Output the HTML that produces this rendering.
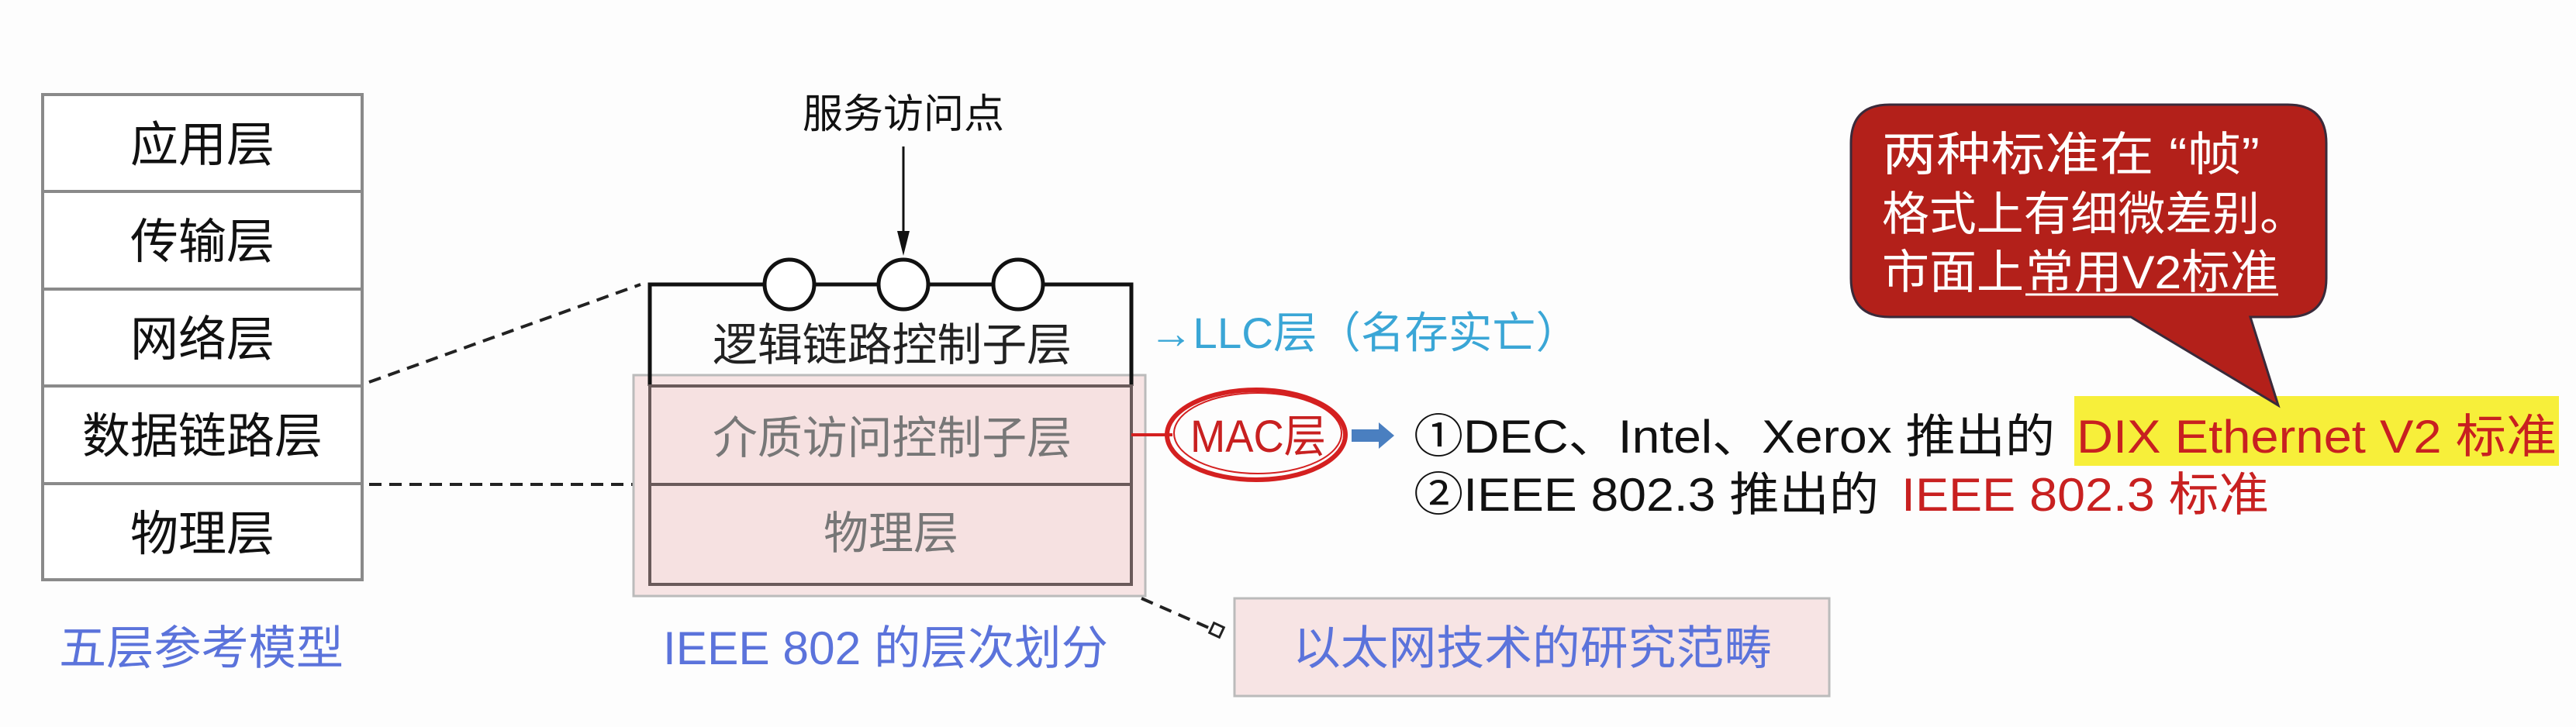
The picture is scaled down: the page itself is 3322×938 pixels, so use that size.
<!DOCTYPE html>
<html><head><meta charset="utf-8"><style>
html,body{margin:0;padding:0;background:#fff;}
svg{display:block;}
text{font-family:"Liberation Sans","Noto Sans CJK SC",sans-serif;}
</style></head><body>
<svg width="3322" height="938" viewBox="0 0 3322 938" xmlns="http://www.w3.org/2000/svg">
<rect width="3322" height="938" fill="#fdfdfd"/>
<g stroke="#8a8a8a" stroke-width="4" fill="#fff">
<rect x="55" y="122" width="412" height="626"/>
<line x1="55" y1="247" x2="467" y2="247"/>
<line x1="55" y1="373" x2="467" y2="373"/>
<line x1="55" y1="498" x2="467" y2="498"/>
<line x1="55" y1="624" x2="467" y2="624"/>
</g>
<g font-size="62" fill="#111" text-anchor="middle">
<text x="261" y="208">应用层</text>
<text x="261" y="333">传输层</text>
<text x="261" y="459">网络层</text>
<text x="261" y="584">数据链路层</text>
<text x="261" y="710">物理层</text>
</g>
<text x="76" y="857" font-size="60" fill="#5b73db" textLength="367" lengthAdjust="spacingAndGlyphs">五层参考模型</text>
<g stroke="#222" stroke-width="4" stroke-dasharray="16,10" fill="none">
<line x1="476" y1="493" x2="826" y2="367"/>
<line x1="476" y1="625" x2="817" y2="625"/>
<line x1="1472" y1="772" x2="1568" y2="814"/>
</g>
<rect x="1562" y="806" width="14" height="14" fill="#fff" stroke="#222" stroke-width="3" transform="rotate(25 1569 813)"/>
<rect x="817" y="484" width="660" height="285" fill="#f7e4e4" stroke="#bbb" stroke-width="3"/>
<polyline points="838,498 838,367 1459,367 1459,498" fill="none" stroke="#111" stroke-width="5"/>
<rect x="838" y="498" width="621" height="256" fill="#f6e1e1" stroke="#6a5a5a" stroke-width="4"/>
<line x1="838" y1="625" x2="1459" y2="625" stroke="#6a5a5a" stroke-width="4"/>
<g fill="#fff" stroke="#111" stroke-width="5">
<circle cx="1018" cy="367" r="32"/>
<circle cx="1165" cy="367" r="32"/>
<circle cx="1313" cy="367" r="32"/>
</g>
<line x1="1165" y1="189" x2="1165" y2="305" stroke="#111" stroke-width="3"/>
<polygon points="1157,298 1173,298 1165,330" fill="#111"/>
<text x="1165" y="165" font-size="52" fill="#111" text-anchor="middle">服务访问点</text>
<text x="919" y="465" font-size="58" fill="#222" textLength="463" lengthAdjust="spacingAndGlyphs">逻辑链路控制子层</text>
<text x="919" y="585" font-size="58" fill="#777" textLength="463" lengthAdjust="spacingAndGlyphs">介质访问控制子层</text>
<text x="1149" y="708" font-size="58" fill="#777" text-anchor="middle">物理层</text>
<text x="855" y="857" font-size="60" fill="#5b73db" textLength="574" lengthAdjust="spacingAndGlyphs">IEEE 802 的层次划分</text>
<text x="1482" y="449" font-size="56" fill="#3aa6d6" textLength="555" lengthAdjust="spacingAndGlyphs">→LLC层（名存实亡）</text>
<line x1="1459" y1="561" x2="1512" y2="561" stroke="#d42020" stroke-width="4"/>
<ellipse cx="1620" cy="561" rx="115" ry="58" fill="none" stroke="#d42020" stroke-width="6"/>
<ellipse cx="1622" cy="559" rx="108" ry="52" fill="none" stroke="#d42020" stroke-width="2"/>
<text x="1535" y="583" font-size="58" fill="#c82020" textLength="175" lengthAdjust="spacingAndGlyphs">MAC层</text>
<polygon points="1743,554 1778,554 1778,545 1798,562 1778,579 1778,570 1743,570" fill="#4a7fc0"/>
<rect x="2675" y="511" width="625" height="90" fill="#f7ef3a"/>
<g font-size="60">
<text x="1823" y="584" fill="#111" textLength="827" lengthAdjust="spacingAndGlyphs">①DEC、Intel、Xerox 推出的</text>
<text x="2678" y="584" fill="#c82020" textLength="619" lengthAdjust="spacingAndGlyphs">DIX Ethernet V2 标准</text>
<text x="1823" y="659" fill="#111" textLength="600" lengthAdjust="spacingAndGlyphs">②IEEE 802.3 推出的</text>
<text x="2452" y="659" fill="#c82020" textLength="474" lengthAdjust="spacingAndGlyphs">IEEE 802.3 标准</text>
</g>
<rect x="1592" y="772" width="767" height="126" fill="#f7e4e4" stroke="#bbb" stroke-width="3"/>
<text x="1667" y="857" font-size="60" fill="#5b73db" textLength="618" lengthAdjust="spacingAndGlyphs">以太网技术的研究范畴</text>
<path d="M2437,135 L2950,135 Q3000,135 3000,185 L3000,359 Q3000,409 2950,409 L2902,409 L2938,523 L2748,409 L2437,409 Q2387,409 2387,359 L2387,185 Q2387,135 2437,135 Z" fill="#b3201a" stroke="#3a2a3a" stroke-width="3"/>
<g font-size="60" fill="#fff">
<text x="2427" y="220" textLength="487" lengthAdjust="spacingAndGlyphs">两种标准在 “帧”</text>
<text x="2427" y="297" textLength="548" lengthAdjust="spacingAndGlyphs">格式上有细微差别。</text>
<text x="2427" y="372" textLength="183" lengthAdjust="spacingAndGlyphs">市面上</text>
<text x="2612" y="372" textLength="326" lengthAdjust="spacingAndGlyphs">常用V2标准</text>
</g>
<line x1="2612" y1="380" x2="2938" y2="380" stroke="#fff" stroke-width="3"/>
</svg>
</body></html>
